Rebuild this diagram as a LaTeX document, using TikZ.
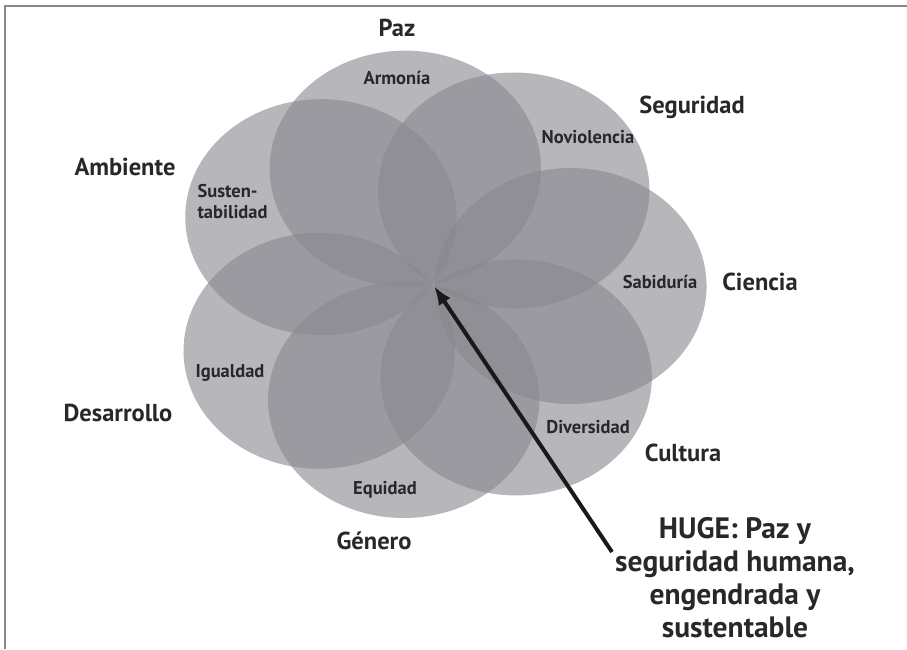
\documentclass[tikz,border=0pt]{standalone}
\usepackage{fontspec}
\setmainfont{PT Sans}
\usetikzlibrary{arrows.meta}

\definecolor{petalgray}{RGB}{135,135,142}
\definecolor{labelgray}{RGB}{40,40,43}
\definecolor{framegray}{RGB}{135,135,135}

\begin{document}
\begin{tikzpicture}[x=1pt, y=1pt, >={Latex[length=19pt, width=14pt]},
    petal/.style={fill=petalgray, fill opacity=0.6},
    outer/.style={text=labelgray, font=\fontsize{24.5}{28}\selectfont\bfseries},
    inner/.style={text=labelgray, font=\fontsize{18.5}{21}\selectfont\bfseries},
    frameline/.style={draw=framegray, line width=2pt}]
        % ==== DEFINITIONS ====
        \def\R{118} % petal radius
        \def\sx{1.15} % horizontal stretch of the petals

        \useasboundingbox (0,0) rectangle (907,649);

        % ==== FRAME ====
        \draw[frameline] (4.5,0) -- (4.5,643) -- (907,643);

        % ==== CENTER O ====
        \coordinate (O) at (434,363);

        % ==== PETALS ====
        \begin{scope}[shift={(O)}, xscale=\sx]
            \fill[petal] (102:120) circle(\R); % Paz
            \fill[petal] (54:118) circle(\R);  % Seguridad
            \fill[petal] (0:119) circle(\R);   % Ciencia
            \fill[petal] (-52:116) circle(\R); % Cultura
            \fill[petal] (-103:117) circle(\R); % Genero
            \fill[petal] (-147:119) circle(\R); % Desarrollo
            \fill[petal] (145:120) circle(\R); % Ambiente
        \end{scope}

        % ==== OUTER LABELS ====
        \node[outer] (paz) at (397,621) {Paz};
        \node[outer] (seguridad) at (692,542) {Seguridad};
        \node[outer] (ciencia) at (760,367) {Ciencia};
        \node[outer] (cultura) at (683,196) {Cultura};
        \node[outer] (genero) at (374,108) {Género};
        \node[outer] (desarrollo) at (118,236) {Desarrollo};
        \node[outer] (ambiente) at (125,482) {Ambiente};

        % ==== INNER LABELS ====
        \node[inner] (armonia) at (397,571) {Armonía};
        \node[inner] (noviolencia) at (588,512) {Noviolencia};
        \node[inner] (sabiduria) at (660,367) {Sabiduría};
        \node[inner] (diversidad) at (588,222) {Diversidad};
        \node[inner] (equidad) at (385,159) {Equidad};
        \node[inner] (igualdad) at (230,276) {Igualdad};
        \node[inner, anchor=west, align=left] (sustentabilidad) at (194,447) {Susten-\\tabilidad};

        % ==== HUGE ====
        \node[text=labelgray, align=center, font=\fontsize{29.5}{33}\selectfont\bfseries] (huge) at (735,71)
            {HUGE: Paz y\\seguridad humana,\\engendrada y\\sustentable};

        % ==== ARROW FROM HUGE TO O ====
        \coordinate (tail) at (612,97);
        \draw[->, line width=4pt, black!90] (tail) -- (O);
\end{tikzpicture}
\end{document}
